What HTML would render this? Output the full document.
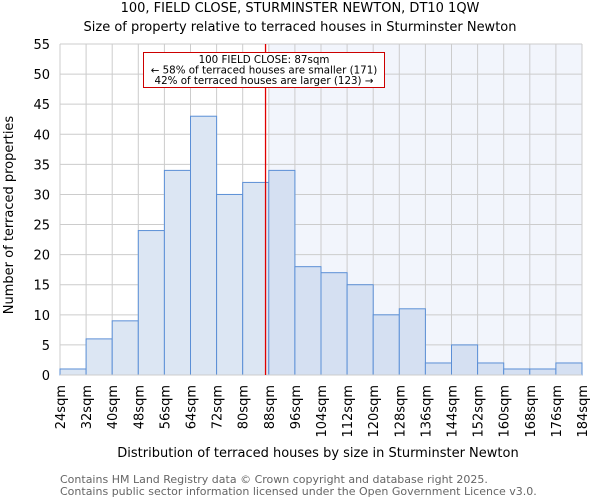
<!DOCTYPE html>
<html><head><meta charset="utf-8"><style>
body{margin:0;background:#fff;font-family:"DejaVu Sans","Liberation Sans",sans-serif;}
</style></head><body>
<svg width="600" height="500" xmlns="http://www.w3.org/2000/svg" font-family="DejaVu Sans, Liberation Sans, sans-serif">
<text x="300" y="12" text-anchor="middle" font-size="13">100, FIELD CLOSE, STURMINSTER NEWTON, DT10 1QW</text>
<text x="300" y="31" text-anchor="middle" font-size="13">Size of property relative to terraced houses in Sturminster Newton</text>
<g id="plot"></g>
<text x="318" y="457" text-anchor="middle" font-size="13">Distribution of terraced houses by size in Sturminster Newton</text>
<text transform="translate(13,215) rotate(-90)" text-anchor="middle" font-size="13">Number of terraced properties</text>
<text x="60" y="483" font-size="11" fill="#666">Contains HM Land Registry data © Crown copyright and database right 2025.</text>
<text x="60" y="495" font-size="11" fill="#666">Contains public sector information licensed under the Open Government Licence v3.0.</text>
</svg>
<script>
const binEdges=[24,32,40,48,56,64,72,80,88,96,104,112,120,128,136,144,152,160,168,176,184];
const counts=[1,6,9,24,34,43,30,32,34,18,17,15,10,11,2,5,2,1,1,2];
const yTicks=[0,5,10,15,20,25,30,35,40,45,50,55];
const subjectSize=87;
const NS="http://www.w3.org/2000/svg";
const L=60,R=582,T=44,B=375;
const xs=v=>L+(v-24)/(184-24)*(R-L);
const ys=v=>B-v/55*(B-T);
const g=document.getElementById('plot');
function mk(t,a){const e=document.createElementNS(NS,t);for(const k in a)e.setAttribute(k,a[k]);g.appendChild(e);return e;}
let e=mk('rect',{x:xs(88),y:T,width:R-xs(88),height:B-T,fill:'#f2f5fc'});


yTicks.forEach(t=>{let l=mk('line',{x1:L,x2:R,y1:ys(t),y2:ys(t),stroke:'#ccc','stroke-width':1});


let tx=mk('text',{x:L-10,y:ys(t)+5,'text-anchor':'end','font-size':13});tx.textContent=t;

});
binEdges.forEach(b=>{let l=mk('line',{x1:xs(b),x2:xs(b),y1:T,y2:B,stroke:'#ccc','stroke-width':1});


let tx=mk('text',{transform:`translate(${xs(b)+5},${B+10}) rotate(-90)`,'text-anchor':'end','font-size':13});tx.textContent=b+'sqm';

});
counts.forEach((c,i)=>{let x0=xs(binEdges[i]),x1=xs(binEdges[i+1]);
let r=mk('rect',{x:x0,y:ys(c),width:x1-x0,height:B-ys(c),fill:binEdges[i]>=88?'#d5e0f2':'#dce6f3',stroke:'#5b8fd6','stroke-width':1});

});
let ax=mk('line',{x1:L,x2:R,y1:B,y2:B,stroke:'#ccc'});


let rl=mk('line',{x1:xs(subjectSize),x2:xs(subjectSize),y1:T,y2:B,stroke:'#e00000','stroke-width':1.3});


let bx=mk('rect',{x:143.5,y:52.5,width:241,height:35,fill:'#fff',stroke:'#cc0000','stroke-width':1});


['100 FIELD CLOSE: 87sqm','← 58% of terraced houses are smaller (171)','42% of terraced houses are larger (123) →'].forEach((s,i)=>{
let t=mk('text',{x:264,y:63+i*10.5,'text-anchor':'middle','font-size':10.3});t.textContent=s;

});
</script>
</body></html>
